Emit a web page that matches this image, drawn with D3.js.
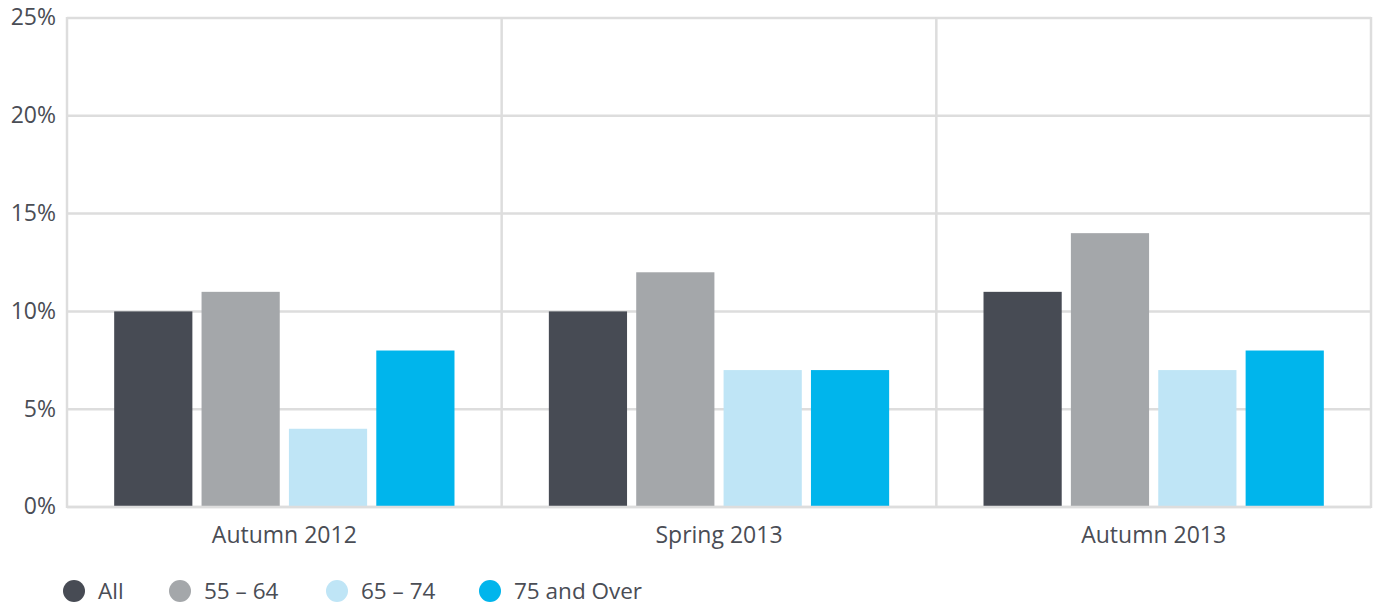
<!DOCTYPE html>
<html>
<head>
<meta charset="utf-8">
<script src="https://cdn.jsdelivr.net/npm/d3@7"></script>
<style>
  html, body { margin: 0; padding: 0; background: #fff; }
  svg { display: block; font-family: "Open Sans", "Noto Sans", sans-serif; }
</style>
</head>
<body>
<svg id="chart" width="1379" height="606"></svg>
<script>
// Survey periods and age groups
const periods = ["Autumn 2012", "Spring 2013", "Autumn 2013"];
const groups = ["All", "55 – 64", "65 – 74", "75 and Over"];
const colors = ["#474b54", "#a4a7aa", "#bfe5f6", "#00b5ec"];

// Share (%) per age group, one value per period
const valAll   = [10, 10, 11];
const val5564  = [11, 12, 14];
const val6574  = [4, 7, 7];
const val75up  = [8, 7, 8];
const seriesValues = [valAll, val5564, val6574, val75up];

const yTicks = [0, 5, 10, 15, 20, 25];

const svg = d3.select("#chart");
const margin = { left: 67, right: 8, top: 18, bottom: 99 };
const W = 1379, H = 606;
const x0 = margin.left, x1 = W - margin.right;
const y0 = H - margin.bottom, y1 = margin.top;

const x = d3.scaleBand().domain(periods).range([x0, x1]).padding(0);
const xInner = d3.scaleBand().domain(groups).range([0, x.bandwidth()])
  .paddingInner(0.105).paddingOuter(0.54);
const y = d3.scaleLinear().domain([0, 25]).range([y0, y1]);

const gridColor = "#dddddd";
const textColor = "#4a4d55";
const fontStack = "'Open Sans', 'Noto Sans', sans-serif";

// Horizontal gridlines
svg.append("g").selectAll("line").data(yTicks).join("line")
  .attr("x1", x0).attr("x2", x1)
  .attr("y1", d => y(d)).attr("y2", d => y(d))
  .attr("stroke", gridColor).attr("stroke-width", 2.5);

// Vertical separators (left, between periods, right)
const seps = periods.map(p => x(p)).concat([x1]);
svg.append("g").selectAll("line").data(seps).join("line")
  .attr("x1", d => d).attr("x2", d => d)
  .attr("y1", y1 - 1).attr("y2", y0 + 1)
  .attr("stroke", gridColor).attr("stroke-width", 2.5);

// Y-axis labels
const yAxis = d3.axisLeft(y).tickValues(yTicks).tickFormat(d => d + "%").tickSize(0).tickPadding(11);
const yg = svg.append("g").attr("transform", `translate(${x0},0)`).call(yAxis);
yg.select(".domain").remove();
yg.selectAll("text").attr("fill", textColor).style("font-size", "23px")
  .style("font-family", fontStack).attr("dy", "0.3em");

// Bars
const barsG = svg.append("g");
periods.forEach((p, i) => {
  groups.forEach((g, j) => {
    const v = seriesValues[j][i];
    barsG.append("rect")
      .attr("x", x(p) + xInner(g))
      .attr("width", xInner.bandwidth())
      .attr("y", y(v))
      .attr("height", y(0) - y(v))
      .attr("fill", colors[j]);
  });
});

// Redraw the baseline on top of the bars
svg.append("line").attr("x1", x0).attr("x2", x1)
  .attr("y1", y(0)).attr("y2", y(0))
  .attr("stroke", gridColor).attr("stroke-width", 2.5);

// X-axis category labels
const xAxis = d3.axisBottom(x).tickSize(0).tickPadding(20);
const xg = svg.append("g").attr("transform", `translate(0,${y0})`).call(xAxis);
xg.select(".domain").remove();
xg.selectAll("text").attr("fill", textColor).style("font-size", "23px")
  .style("font-family", fontStack);

// Legend
const legendX = [74, 180, 337, 490];
const legend = svg.append("g").selectAll("g").data(groups).join("g")
  .attr("transform", (d, i) => `translate(${legendX[i]},591)`);
legend.append("circle").attr("r", 11).attr("fill", (d, i) => colors[i]);
legend.append("text").attr("x", 24).attr("dy", "0.35em")
  .attr("fill", textColor).style("font-size", "22.5px").style("font-family", fontStack).text(d => d);
</script>
</body>
</html>
